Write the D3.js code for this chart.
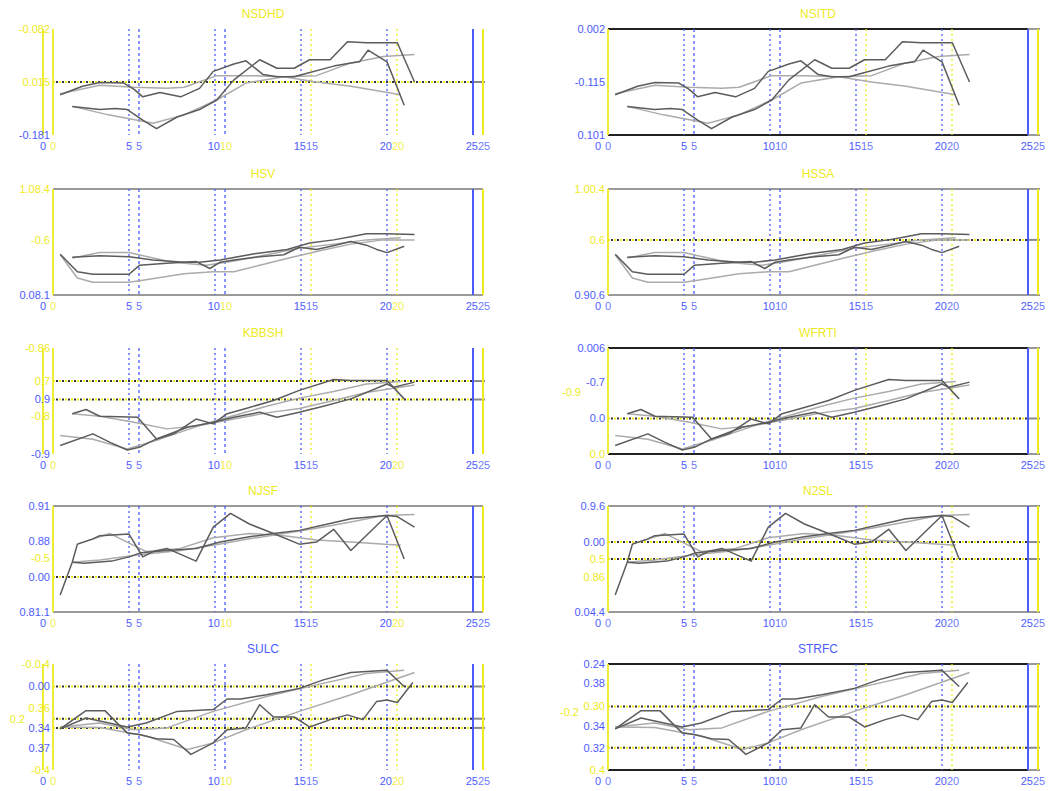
<!DOCTYPE html>
<html>
<head>
<meta charset="utf-8">
<script src="https://cdn.jsdelivr.net/npm/d3@7"></script>
<style>
  body { margin: 0; background: #fff; }
  svg { display: block; }
  text { font-family: "Liberation Sans", Arial, sans-serif; }
</style>
</head>
<body>
<svg id="chart" width="1050" height="791"></svg>
<script>
// ---- panel titles (two panels per row share the same series) ----
const panelTitles = ["NSDHD", "NSITD", "HSV", "HSSA", "KBBSH", "WFRTI", "NJSF", "N2SL", "SULC", "STRFC"];
const titleColors = ["y", "y", "y", "y", "y", "y", "y", "y", "b", "b"];

// ---- x axis ticks ----
const xTickValues = [0, 5, 10, 15, 20, 25];

// ---- y tick labels per panel: [value, label, colour, extra left shift] ----
const yTicksP1 = [[100, "-0.082", "y", 0], [50, "0.015", "y", 0], [0, "-0.181", "b", 0]];
const yTicksP2 = [[100, "0.002", "b", 0], [50, "-0.115", "b", 0], [0, "0.101", "b", 0]];
const yTicksP3 = [[100, "1.08.4", "y", 0], [52, "-0.6", "y", 0], [0, "0.08.1", "b", 0]];
const yTicksP4 = [[100, "1.00.4", "y", 0], [52, "0.6", "y", 0], [0, "0.90.6", "b", 0]];
const yTicksP5 = [[100, "-0.86", "y", 0], [68.8, "0.7", "y", 0], [51.4, "0.9", "b", 0], [36, "-0.8", "y", 0], [0, "-0.9", "b", 0]];
const yTicksP6 = [[100, "0.006", "b", 0], [68, "-0.7", "b", 0], [58, "-0.9", "y", 24], [33.5, "0.0", "b", 0], [0, "0.0", "y", 0]];
const yTicksP7 = [[100, "0.91", "b", 0], [66.6, "0.88", "b", 0], [51, "-0.5", "y", 0], [33, "0.00", "b", 0], [0, "0.81.1", "b", 0]];
const yTicksP8 = [[100, "0.9.6", "b", 0], [66, "0.00", "b", 0], [50, "0.5", "y", 0], [33, "0.86", "y", 0], [0, "0.04.4", "b", 0]];
const yTicksP9 = [[100, "-0.0.4", "y", 0], [78.8, "0.00", "b", 0], [58, "0.36", "y", 0], [48.4, "0.2", "y", 25], [39.7, "0.34", "b", 0], [21, "0.37", "b", 0], [0, "-0.4", "y", 0]];
const yTicksP10 = [[100, "0.24", "b", 0], [82, "0.38", "b", 0], [60, "0.30", "y", 0], [55, "-0.2", "y", 26], [41, "0.34", "b", 0], [21, "0.32", "b", 0], [0, "0.4", "y", 0]];
const panelYTicks = [yTicksP1, yTicksP2, yTicksP3, yTicksP4, yTicksP5, yTicksP6, yTicksP7, yTicksP8, yTicksP9, yTicksP10];

// ---- dotted reference levels per panel ----
const panelRefLevels = [[50], [], [], [52], [68.8, 51.4], [33.5], [33], [66, 50], [78.8, 48.4, 39.7], [60, 21]];

// ---- frame style per panel (null = open panel) ----
const panelFrames = [null, "#222", "#9a9a9a", "#9a9a9a", null, "#222", "#9a9a9a", "#9a9a9a", null, "#222"];

// ---- series, row 1 ----
const row1DarkA = [[1.0,38],[2.3,46],[3.3,49.5],[4.7,49],[5.3,43],[5.8,36],[6.8,40],[8.0,36],[9.1,44],[9.9,60],[11.1,67],[11.8,70],[12.8,57],[13.6,55],[14.6,55],[15.3,58],[16.9,65],[17.9,68],[18.4,69],[18.9,80],[20.0,69],[21.0,28]];
const row1DarkB = [[1.7,27],[3.3,24],[4.2,25],[4.9,24],[5.8,14],[6.6,6],[7.8,17],[9.1,24],[10.1,33],[11.1,52],[12.6,71],[13.6,63],[14.6,63],[15.5,71],[16.7,71],[17.7,88],[18.8,87],[20.6,87],[21.6,50]];
const row1LightA = [[1.0,39],[3.3,47],[5.3,45],[7.2,44],[8.2,45],[10.1,56],[12.0,56],[14.0,55],[15.9,50],[17.9,46],[20.8,38]];
const row1LightB = [[1.7,27],[3.8,19],[6.4,11],[8.2,19],[10.1,33],[11.8,49],[14.0,55],[15.9,56],[17.9,68],[19.8,74],[21.6,76]];

// ---- series, row 2 ----
const row2DarkA = [[1.0,38.5],[2.0,22],[2.9,19.6],[5.0,19.6],[5.6,28],[7.2,30],[8.9,31.5],[9.7,25],[10.3,31],[11.1,33],[12.6,36],[14.0,38],[14.9,45],[15.9,43],[17.0,47],[17.9,50.5],[18.8,47],[19.4,43],[20.0,40],[21.0,46]];
const row2DarkB = [[1.7,35.6],[3.3,37],[5.0,36],[6.4,33],[8.2,31],[9.1,31],[10.3,33],[12.3,39],[14.2,43],[15.5,49],[16.9,52],[17.9,55],[18.8,57.7],[20.0,57.7],[21.6,57]];
const row2LightA = [[1.7,35],[3.3,40],[5.0,40],[7.2,32],[8.2,30],[9.5,28],[11.1,32],[13.0,38],[14.9,44],[16.9,48],[18.8,52],[20.8,54]];
const row2LightB = [[1.0,38],[2.0,16],[2.9,12],[5.0,12],[5.8,14],[8.2,20],[9.9,22],[11.1,22],[12.6,28],[14.6,36],[15.9,41],[17.9,48],[19.8,52],[21.6,52]];

// ---- series, row 3 ----
const row3DarkA = [[1.7,38],[2.5,42],[3.3,35.6],[5.5,34.7],[6.6,14.2],[7.6,19],[8.9,33],[9.9,28.4],[10.7,38],[11.8,43],[13.4,50.5],[14.9,60],[16.9,70.3],[17.9,69.4],[20.0,69.4],[21.0,52]];
const row3DarkB = [[1.0,8],[2.9,19],[3.9,11],[4.9,3.8],[5.6,6.3],[6.6,14.2],[8.4,25.2],[9.9,30],[11.1,34.7],[12.6,39.4],[13.6,34.7],[14.9,39.4],[16.3,45],[17.9,52],[20.0,66],[20.4,63],[21.6,67.8]];
const row3LightA = [[1.7,38],[3.3,35.6],[5.3,30],[7.2,23.7],[9.1,26.8],[11.1,36.3],[13.0,45],[14.9,52.7],[16.9,59],[18.8,66],[20.8,68.5]];
const row3LightB = [[1.0,17.4],[2.9,14],[4.9,4.7],[6.8,14],[9.1,26.8],[11.1,33],[13.0,38.8],[14.9,43],[16.9,50.5],[18.8,58],[21.6,65]];

// ---- series, row 4 ----
const row4DarkA = [[1.0,16],[1.7,47],[2.0,64],[2.9,69],[3.3,72],[5.0,73.5],[5.8,52],[6.4,57],[7.2,60],[8.9,48],[9.9,80],[10.9,93],[12.0,83],[13.4,74],[14.9,64],[15.9,66],[16.9,78],[17.9,58],[20.0,91],[21.0,50]];
const row4DarkB = [[1.7,47],[2.4,46],[4.0,48],[5.0,52],[5.7,56],[7.2,58],[8.9,60],[10.3,66],[12.0,71],[13.4,74],[14.9,77],[16.3,82],[17.9,88],[19.3,90],[20.0,91],[20.6,90],[21.6,80]];
const row4LightA = [[2.0,64],[3.9,74],[6.0,57],[8.0,60],[9.9,70],[12.0,74],[14.0,72],[15.9,68],[17.9,66],[20.8,63]];
const row4LightB = [[1.7,47],[3.3,49],[5.6,54],[8.0,58],[9.9,63],[12.0,69],[14.0,74],[15.9,79],[17.9,85],[19.8,91],[21.6,92]];

// ---- series, row 5 ----
const row5DarkA = [[1.0,38.8],[2.5,56],[3.6,56],[4.4,42.8],[4.9,35],[5.6,33.4],[6.6,29.4],[7.6,28.8],[8.6,14.7],[9.9,25.6],[10.7,38],[11.8,39.7],[12.6,61.6],[13.4,50],[14.6,50],[15.5,40.6],[16.7,47.5],[17.7,52],[18.6,47.5],[19.4,64.7],[20.0,66],[20.6,63.7],[21.5,82.5]];
const row5DarkB = [[1.0,38.8],[2.5,49],[4.9,40.6],[6.0,44.4],[7.8,55.3],[9.9,57],[10.7,67],[11.5,67],[13.0,71],[14.9,77],[16.3,85],[17.9,92],[20.0,94],[21.0,78.8]];
const row5LightA = [[1.0,40.6],[3.3,44.4],[5.3,38],[7.2,39.7],[9.9,55.3],[13.0,69.4],[15.9,80.3],[18.8,91],[21.0,94]];
const row5LightB = [[1.0,40.6],[3.3,40],[6.0,32],[8.4,19.4],[9.9,25.6],[11.8,38],[14.9,55.3],[17.9,71],[21.6,92]];

const rowSeries = [
  [row1DarkA, row1DarkB, row1LightA, row1LightB],
  [row2DarkA, row2DarkB, row2LightA, row2LightB],
  [row3DarkA, row3DarkB, row3LightA, row3LightB],
  [row4DarkA, row4DarkB, row4LightA, row4LightB],
  [row5DarkA, row5DarkB, row5LightA, row5LightB]
];
const seriesColors = ["#5c5c5c", "#5c5c5c", "#ababab", "#ababab"];

// ---- layout ----
const colLeft = [43, 598];      // pixel of x = 0 on the blue axis
const plotWidth = 430;
const axisShift = 10;           // yellow axis sits this far right of the blue one
const rowTop = [29, 189, 348, 506, 664];
const plotHeight = 106;

const BLUE = "#4d5cff";
const YELLOW = "#eeea1c";

const svg = d3.select("#chart");

panelTitles.forEach((title, i) => {
  const row = Math.floor(i / 2), col = i % 2;
  const x0 = colLeft[col];
  const top = rowTop[row], bottom = top + plotHeight;

  const xBlue = d3.scaleLinear().domain([0, 25]).range([x0, x0 + plotWidth]);
  const xYellow = d3.scaleLinear().domain([0, 25]).range([x0 + axisShift, x0 + axisShift + plotWidth]);
  const y = d3.scaleLinear().domain([0, 100]).range([bottom, top]);

  const g = svg.append("g");
  const frame = panelFrames[i];
  const framed = frame !== null;

  // frame edges (top and bottom)
  if (framed) {
    [top, bottom].forEach(yy => {
      const endX = col === 1 ? xBlue(25) : xYellow(25);
      g.append("line").attr("x1", xYellow(0)).attr("x2", endX).attr("y1", yy).attr("y2", yy)
        .attr("stroke", frame).attr("stroke-width", 2);
      if (col === 1) {
        g.append("line").attr("x1", endX).attr("x2", xYellow(25) + 2).attr("y1", yy).attr("y2", yy)
          .attr("stroke", "#9a9a9a").attr("stroke-width", 2);
      }
    });
  }

  // vertical guide lines at the tick positions
  const innerTicks = xTickValues.filter(v => v > 0 && v < 25);
  innerTicks.forEach(v => {
    g.append("line").attr("x1", xBlue(v)).attr("x2", xBlue(v)).attr("y1", top).attr("y2", bottom)
      .attr("stroke", BLUE).attr("stroke-width", 1.3).attr("stroke-dasharray", "2,3");
    g.append("line").attr("x1", xYellow(v)).attr("x2", xYellow(v)).attr("y1", top).attr("y2", bottom)
      .attr("stroke", v <= 10 ? BLUE : YELLOW).attr("stroke-width", 1.3).attr("stroke-dasharray", v <= 10 ? "3,3" : "2,3");
  });

  // dotted reference levels
  panelRefLevels[i].forEach(lv => {
    const yy = y(lv);
    g.append("line").attr("x1", xYellow(0)).attr("x2", xBlue(25)).attr("y1", yy).attr("y2", yy)
      .attr("stroke", YELLOW).attr("stroke-width", 2).attr("stroke-dasharray", "2,4");
    g.append("line").attr("x1", xYellow(0) + 3).attr("x2", xBlue(25)).attr("y1", yy).attr("y2", yy)
      .attr("stroke", "#333").attr("stroke-width", 2).attr("stroke-dasharray", "2,4");
    g.append("line").attr("x1", xBlue(25)).attr("x2", xYellow(25) + 2).attr("y1", yy).attr("y2", yy)
      .attr("stroke", "#8a8a8a").attr("stroke-width", 2);
  });

  // data series
  const line = d3.line().x(d => xBlue(d[0])).y(d => y(d[1]));
  const series = rowSeries[row];
  [2, 3, 0, 1].forEach(k => {
    g.append("path").datum(series[k]).attr("d", line)
      .attr("fill", "none").attr("stroke", seriesColors[k]).attr("stroke-width", 1.5)
      .attr("stroke-linejoin", "round");
  });

  // solid verticals: left edge(s) and right edge
  const leftEdges = framed ? [xYellow(0)] : [xBlue(0), xYellow(0)];
  leftEdges.forEach(px => {
    g.append("line").attr("x1", px).attr("x2", px).attr("y1", top).attr("y2", bottom)
      .attr("stroke", YELLOW).attr("stroke-width", 1.8);
  });
  g.append("line").attr("x1", xBlue(25)).attr("x2", xBlue(25)).attr("y1", top).attr("y2", bottom)
    .attr("stroke", BLUE).attr("stroke-width", 2);
  g.append("line").attr("x1", xYellow(25)).attr("x2", xYellow(25)).attr("y1", top).attr("y2", bottom)
    .attr("stroke", YELLOW).attr("stroke-width", 2);

  // x tick labels: blue and yellow axis labels run together in one text chunk
  xTickValues.forEach(v => {
    const mid = (xBlue(v) + xYellow(v)) / 2;
    const t = g.append("text").attr("x", mid).attr("y", bottom + 15)
      .attr("text-anchor", "middle").attr("font-size", 11);
    t.append("tspan").attr("fill", BLUE).text(v);
    t.append("tspan").attr("dx", v < 10 ? 4 : 0)
      .attr("fill", (v % 10 === 0 && col === 0) ? YELLOW : BLUE).attr("fill-opacity", 0.85).text(v);
  });

  // y tick labels
  panelYTicks[i].forEach(([v, label, c, shift]) => {
    g.append("text").attr("x", xYellow(0) - 3 - shift).attr("y", y(v)).attr("dy", "0.35em")
      .attr("text-anchor", "end").attr("font-size", 11)
      .attr("fill", c === "b" ? BLUE : YELLOW).text(label);
  });

  // panel title
  const cx = (xBlue(12.5) + xYellow(12.5)) / 2;
  g.append("text").attr("x", cx).attr("y", top - 11).attr("text-anchor", "middle")
    .attr("font-size", 12).attr("fill", titleColors[i] === "y" ? YELLOW : BLUE).text(title);
});
</script>
</body>
</html>
